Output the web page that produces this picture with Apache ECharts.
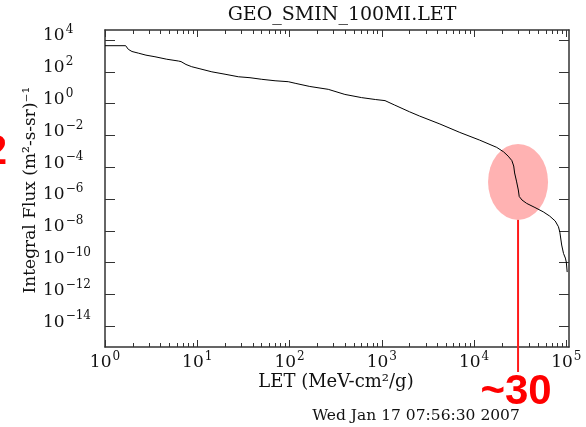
<!DOCTYPE html>
<html><head><meta charset="utf-8">
<script src="https://cdn.jsdelivr.net/npm/echarts@6/dist/echarts.min.js"></script>
<style>html,body{margin:0;padding:0;background:#fff}#c{width:586px;height:427px}</style>
</head><body><div id="c"></div>
<script>
const titleText = 'GEO_SMIN_100MI.LET';
const xName = 'LET (MeV-cm²/g)';
const yName = 'Integral Flux (m²-s-sr)⁻¹';
const dateText = 'Wed Jan 17 07:56:30 2007';
const annotationLabel = '~30';
const leftMarkLabel = '2';

// LET (MeV-cm^2/g)
const letValues = [1, 1.675, 1.79, 1.96, 2.30, 2.78, 3.48, 4.67, 6.24, 6.67, 7.55, 8.71, 10.7, 14.4, 20.0, 27.9, 37.3, 50.0, 69.7, 97.0,
  115, 166, 263, 398, 603, 851, 1084, 1380, 1995, 2570, 4266, 7015, 11480, 17620, 20890, 23440, 25700, 26920, 27540, 28840,
  30200, 30900, 33110, 37150, 45710, 56230, 66070, 75860, 82220, 85110, 89130, 93330, 97720, 100000, 102300];
// Integral flux (m^2-s-sr)^-1
const fluxValues = [4.4e3, 4.4e3, 2.6e3, 1.9e3, 1.5e3, 1.12e3, 8.9e2, 6.2e2, 4.8e2, 4.4e2, 2.9e2, 2.1e2, 1.55e2, 1.0e2, 70.8, 49.0, 42.7, 33.9, 27.5, 24.0,
  19.1, 12.0, 7.94, 3.80, 2.40, 1.82, 1.55, 0.813, 0.309, 0.166, 0.0525, 0.0155, 5.13e-3, 1.78e-3, 9.33e-4, 5.01e-4, 2.63e-4, 1.20e-4, 4.37e-5, 1.35e-5,
  3.72e-6, 1.45e-6, 8.71e-7, 5.37e-7, 2.95e-7, 1.58e-7, 8.51e-8, 4.17e-8, 1.82e-8, 8.32e-9, 1.29e-9, 3.80e-10, 1.95e-10, 1.10e-10, 2.57e-11];

const xMin = 1, xMax = 1.07e5;
const yMin = 5.0e-16, yMax = 4.27e4;
const xMajorTicks = [1, 10, 100, 1000, 10000, 100000];
const xTickLabels = ['0', '1', '2', '3', '4', '5'];
const xMinorTicks = [2,3,4,5,6,7,8,9, 20,30,40,50,60,70,80,90, 200,300,400,500,600,700,800,900,
  2000,3000,4000,5000,6000,7000,8000,9000, 20000,30000,40000,50000,60000,70000,80000,90000];
const yMajorTicks = [1e4, 1e2, 1, 1e-2, 1e-4, 1e-6, 1e-8, 1e-10, 1e-12, 1e-14];
const yTickLabels = ['4', '2', '0', '−2', '−4', '−6', '−8', '−10', '−12', '−14'];
const annotationLET = 3.0e4, annotationFlux = 1.2e-5;

const FONT = 'DejaVu Serif';
const INK = '#111';
const FRAME = '#333';

function labelFor(v, ticks, labels) {
  let best = 0, bd = 1e9;
  ticks.forEach((t, i) => { const d = Math.abs(Math.log10(v) - Math.log10(t)); if (d < bd) { bd = d; best = i; } });
  return '{b|10}{s|' + labels[best] + '}';
}
const rich = {
  b: { fontFamily: FONT, fontSize: 17, color: INK },
  s: { fontFamily: FONT, fontSize: 12, color: INK, padding: [0, 0, 12, 1] }
};

function xAxisDef(pos, ticks, len, showLine, withLabels) {
  return {
    type: 'log', logBase: 10, min: xMin, max: xMax, position: pos,
    axisLine: { show: showLine, lineStyle: { color: FRAME, width: 1.5 } },
    axisTick: { show: true, inside: true, length: len, customValues: ticks, lineStyle: { color: FRAME, width: 1 } },
    axisLabel: withLabels ? {
      show: true, customValues: xMajorTicks, margin: 4, rich: rich,
      formatter: v => labelFor(v, xMajorTicks, xTickLabels)
    } : { show: false },
    splitLine: { show: false }, minorTick: { show: false }, minorSplitLine: { show: false }
  };
}
function yAxisDef(pos, withLabels) {
  return {
    type: 'log', logBase: 10, min: yMin, max: yMax, position: pos,
    axisLine: { show: true, lineStyle: { color: FRAME, width: 1.5 } },
    axisTick: { show: true, inside: true, length: 10, customValues: yMajorTicks, lineStyle: { color: FRAME, width: 1 } },
    axisLabel: withLabels ? {
      show: true, customValues: yMajorTicks, margin: 62, align: 'left', padding: [0, 0, 8, 0], rich: rich,
      formatter: v => labelFor(v, yMajorTicks, yTickLabels)
    } : { show: false },
    splitLine: { show: false }, minorTick: { show: false }, minorSplitLine: { show: false }
  };
}

const chart = echarts.init(document.getElementById('c'), null, { renderer: 'canvas' });
chart.setOption({
  animation: false,
  backgroundColor: '#fff',
  title: { text: titleText, left: 337, top: 1, textAlign: 'center',
    textStyle: { fontFamily: FONT, fontSize: 19, fontWeight: 'normal', color: INK } },
  grid: { left: 105, right: 17, top: 30, bottom: 80, containLabel: false },
  xAxis: [
    xAxisDef('bottom', xMajorTicks, 7, true, true),
    xAxisDef('bottom', xMinorTicks, 4, false, false),
    xAxisDef('top', xMajorTicks, 7, true, false),
    xAxisDef('top', xMinorTicks, 4, false, false)
  ],
  yAxis: [yAxisDef('left', true), yAxisDef('right', false)],
  series: [{
    type: 'line', xAxisIndex: 0, yAxisIndex: 0, showSymbol: false, symbol: 'none',
    lineStyle: { color: '#000', width: 1 }, z: 5,
    data: letValues.map((x, i) => [x, fluxValues[i]])
  }]
});

const c = chart.convertToPixel({ xAxisIndex: 0, yAxisIndex: 0 }, [annotationLET, annotationFlux]);
const ex = c[0], ey = c[1], rx = 30, ry = 38;
chart.setOption({
  graphic: [
    { type: 'text', x: 31, y: 190, rotation: Math.PI / 2, z: 10,
      style: { text: yName, font: '17px "DejaVu Serif"', fill: INK, align: 'center', verticalAlign: 'middle', textAlign: 'center', textVerticalAlign: 'middle' } },
    { type: 'text', x: 336, y: 382, z: 10,
      style: { text: xName, font: '18px "DejaVu Serif"', fill: INK, align: 'center', verticalAlign: 'middle', textAlign: 'center', textVerticalAlign: 'middle' } },
    { type: 'text', x: 416, y: 416, z: 10,
      style: { text: dateText, font: '15.5px "DejaVu Serif"', fill: INK, align: 'center', verticalAlign: 'middle', textAlign: 'center', textVerticalAlign: 'middle' } },
    { type: 'circle', x: ex, y: ey, scaleY: ry / rx, z: 0,
      shape: { cx: 0, cy: 0, r: rx }, style: { fill: 'rgba(255,0,0,0.3)' } },
    { type: 'line', z: 10, shape: { x1: ex, y1: ey + ry, x2: ex, y2: 372 }, style: { stroke: '#ff1a1a', lineWidth: 2 } },
    { type: 'text', x: ex - 2, y: 392, z: 10,
      style: { text: annotationLabel, font: 'bold 42px "Liberation Sans"', fill: '#ff0000', align: 'center', verticalAlign: 'middle', textAlign: 'center', textVerticalAlign: 'middle' } },
    { type: 'text', x: 7, y: 152, z: 10,
      style: { text: leftMarkLabel, font: 'bold 42px "Liberation Sans"', fill: '#ff0000', align: 'right', verticalAlign: 'middle', textAlign: 'right', textVerticalAlign: 'middle' } }
  ]
});
</script></body></html>
